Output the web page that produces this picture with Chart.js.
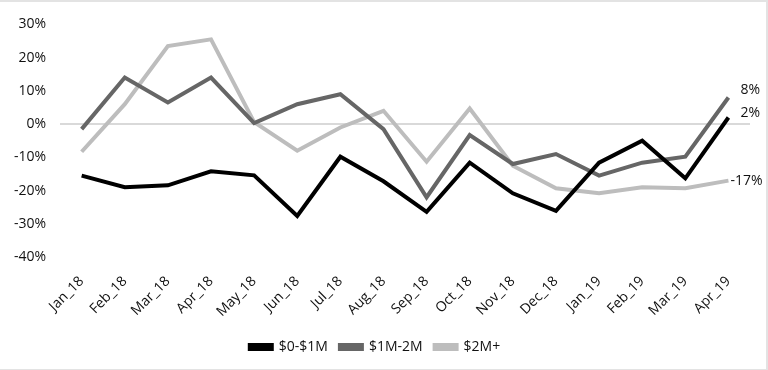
<!DOCTYPE html>
<html>
<head>
<meta charset="utf-8">
<script src="https://cdn.jsdelivr.net/npm/chart.js@4"></script>
<style>
  html, body { margin: 0; padding: 0; background: #fff; }
  #wrap { width: 766px; height: 367px; border-top: 2px solid #e3e3e3; border-right: 2px solid #e3e3e3; border-bottom: 1px solid #e3e3e3; position: relative; }
  canvas { display: block; }
</style>
</head>
<body>
<div id="wrap"><canvas id="chart" width="766" height="366"></canvas></div>
<script>
var months = ['Jan_18', 'Feb_18', 'Mar_18', 'Apr_18', 'May_18', 'Jun_18', 'Jul_18', 'Aug_18',
    'Sep_18', 'Oct_18', 'Nov_18', 'Dec_18', 'Jan_19', 'Feb_19', 'Mar_19', 'Apr_19'];

var small = [-15.5, -19, -18.4, -14.2, -15.4, -27.6, -9.8, -17.2, -26.4, -11.6, -20.8, -26.1, -11.6, -5, -16.3, 2];
var mid = [-1.5, 14, 6.5, 14, 0.3, 6, 9, -1.5, -22, -3.3, -12, -9, -15.5, -11.6, -9.8, 8];
var big = [-8.3, 6, 23.5, 25.5, 0.6, -8, -1, 4, -11.3, 4.7, -12.5, -19.3, -20.8, -19, -19.3, -17];

var font = '"Open Sans", Lato, sans-serif';

// draws the last value next to the end of each line
var endLabels = {
    id: 'endLabels',
    afterDatasetsDraw: function (chart) {
        var ctx = chart.ctx;
        ctx.save();
        ctx.font = '500 14px ' + font;
        ctx.fillStyle = '#111';
        ctx.textBaseline = 'middle';
        chart.data.datasets.forEach(function (ds, i) {
            var meta = chart.getDatasetMeta(i);
            var pt = meta.data[meta.data.length - 1];
            var v = ds.data[ds.data.length - 1];
            var dy = i == 0 ? -4 : (i == 1 ? -8 : 0);
            ctx.fillText(Math.round(v) + '%', pt.x + (i == 2 ? 2 : 12), pt.y + dy);
        });
        ctx.restore();
    }
};

var canvas = document.getElementById('chart');
var ctx = canvas.getContext('2d');
var myChart = new Chart(ctx, {
    type: 'line',
    data: {
        labels: months,
        datasets: [{
            label: '$0-$1M',
            data: small,
            borderColor: '#000000',
            backgroundColor: '#000000',
            borderWidth: 4
        }, {
            label: '$1M-2M',
            data: mid,
            borderColor: '#666666',
            backgroundColor: '#666666',
            borderWidth: 4
        }, {
            label: '$2M+',
            data: big,
            borderColor: '#bdbdbd',
            backgroundColor: '#bdbdbd',
            borderWidth: 4
        }]
    },
    options: {
        responsive: false,
        animation: false,
        layout: { padding: { left: 0, right: 16, top: 4, bottom: 4 } },
        elements: { point: { radius: 0 }, line: { tension: 0, borderJoinStyle: 'miter' } },
        plugins: {
            tooltip: { enabled: false },
            legend: {
                position: 'bottom',
                labels: {
                    font: { family: font, size: 14, weight: '500' },
                    color: '#111',
                    boxWidth: 22,
                    boxHeight: 4,
                    padding: 12
                }
            }
        },
        scales: {
            x: {
                offset: true,
                grid: { display: false },
                border: { display: false },
                ticks: {
                    autoSkip: false,
                    padding: 8,
                    font: { family: font, size: 14, weight: '500' },
                    color: '#111',
                    maxRotation: 45,
                    minRotation: 45
                }
            },
            y: {
                min: -40,
                max: 30,
                border: { display: false },
                grid: {
                    color: function (c) { return c.tick && c.tick.value === 0 ? '#d9d9d9' : 'rgba(0,0,0,0)'; },
                    lineWidth: 2,
                    drawTicks: false
                },
                ticks: {
                    stepSize: 10,
                    padding: 14,
                    font: { family: font, size: 14, weight: '500' },
                    color: '#111',
                    callback: function (v) { return v + '%'; }
                }
            }
        }
    },
    plugins: [endLabels]
});
</script>
</body>
</html>
